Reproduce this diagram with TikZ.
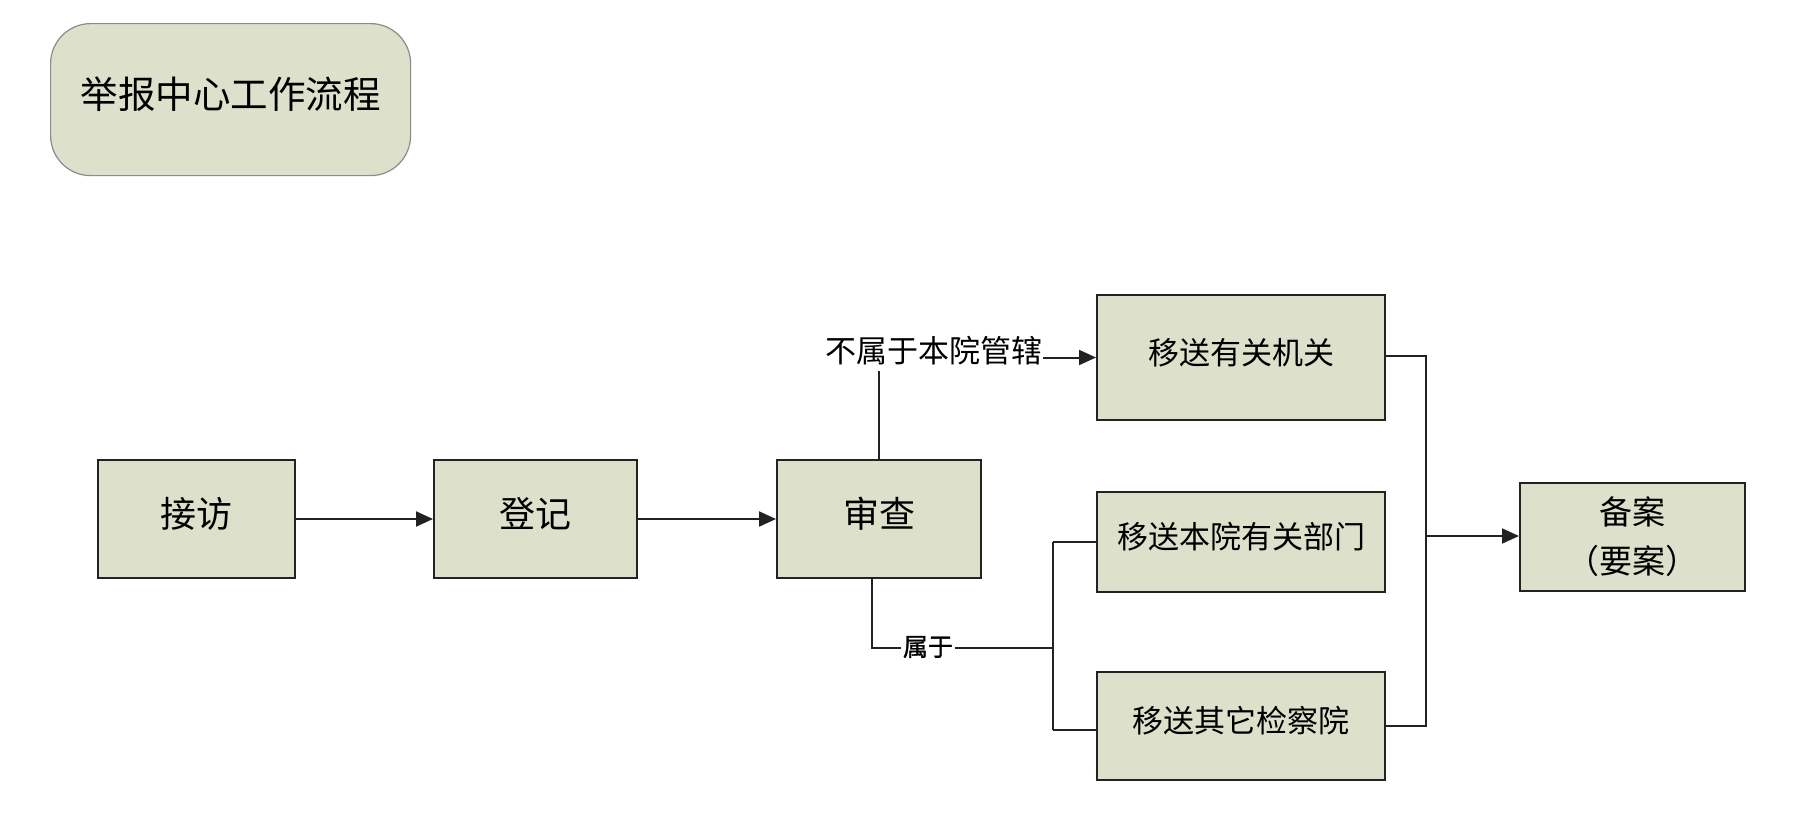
\documentclass[tikz,border=0pt]{standalone}
\usepackage{fontspec}
\newfontfamily\cjk{Noto Sans CJK SC}
\newfontfamily\cjkb[FakeBold=1.2]{Noto Sans CJK SC}
\usetikzlibrary{arrows.meta}
\definecolor{boxfill}{HTML}{DDE0CA}
\definecolor{boxline}{HTML}{222222}
\newcommand{\upbox}[1]{\raisebox{0pt}[\height][\dimexpr\depth+10pt\relax]{#1}}
\begin{document}
\begin{tikzpicture}[x=1pt,y=-1pt,
  stepbox/.style={draw=boxline,line width=2pt,fill=boxfill,inner sep=0pt,anchor=north west},
  conn/.style={draw=boxline,line width=2pt},
  arr/.style={conn,-{Triangle[length=17pt,width=15pt]}},
  lab/.style={fill=white,inner xsep=0pt,inner ysep=6pt}]
\useasboundingbox (0,0) rectangle (1809,817);
\fill[white] (0,0) rectangle (1809,817);
% title
\node[draw=black!45,line width=1.2pt,fill=boxfill,rounded corners=40pt,minimum width=360pt,minimum height=152pt,anchor=north west,inner sep=0pt,font=\cjk\fontsize{37.5}{40}\selectfont] (title) at (50,23) {\upbox{举报中心工作流程}};
% main row
\node[stepbox,minimum width=197pt,minimum height=118pt,font=\cjk\fontsize{36}{40}\selectfont] (jf) at (97,459) {\upbox{接访}};
\node[stepbox,minimum width=203pt,minimum height=118pt,font=\cjk\fontsize{36}{40}\selectfont] (dj) at (433,459) {\upbox{登记}};
\node[stepbox,minimum width=204pt,minimum height=118pt,font=\cjk\fontsize{36}{40}\selectfont] (sc) at (776,459) {\upbox{审查}};
% right column
\node[stepbox,minimum width=288pt,minimum height=125pt,font=\cjk\fontsize{31}{36}\selectfont] (b1) at (1096,294) {\upbox{移送有关机关}};
\node[stepbox,minimum width=288pt,minimum height=100pt,font=\cjk\fontsize{31}{36}\selectfont] (b2) at (1096,491) {\upbox{移送本院有关部门}};
\node[stepbox,minimum width=288pt,minimum height=108pt,font=\cjk\fontsize{31}{36}\selectfont] (b3) at (1096,671) {\upbox{移送其它检察院}};
\node[stepbox,minimum width=225pt,minimum height=108pt,align=center,font=\cjk\fontsize{33}{49}\selectfont] (ba) at (1519,482) {备案\\（要案）};
% connectors
\draw[arr] (jf.east) -- (dj.west);
\draw[arr] (dj.east) -- (sc.west);
\coordinate (c1) at (sc.north |- b1.west);
\draw[conn] (sc.north) -- (c1);
\draw[arr] (c1) -- (b1.west);
\node[lab,font=\cjk\fontsize{31}{36}\selectfont] (l1) at (934,351) {不属于本院管辖};
% 属于 branch
\coordinate (s0) at (872,577);
\coordinate (s1) at (872,648);
\coordinate (s2) at (1053,648);
\coordinate (s3) at (1053,542);
\coordinate (s4) at (1053,730);
\draw[conn] (s0) -- (s1) -- (s2);
\draw[conn] (s3) -- (s4);
\draw[conn] (s3) -- (b2.west |- s3);
\draw[conn] (s4) -- (b3.west |- s4);
\node[lab,inner xsep=2pt,font=\cjkb\fontsize{25}{28}\selectfont] (l2) at (928,647) {属于};
% right bus
\coordinate (r1) at (1426,356);
\coordinate (r2) at (1426,726);
\coordinate (r3) at (1426,536);
\draw[conn] (b1.east |- r1) -- (r1) -- (r2) -- (b3.east |- r2);
\draw[arr] (r3) -- (ba.west |- r3);
\end{tikzpicture}
\end{document}
